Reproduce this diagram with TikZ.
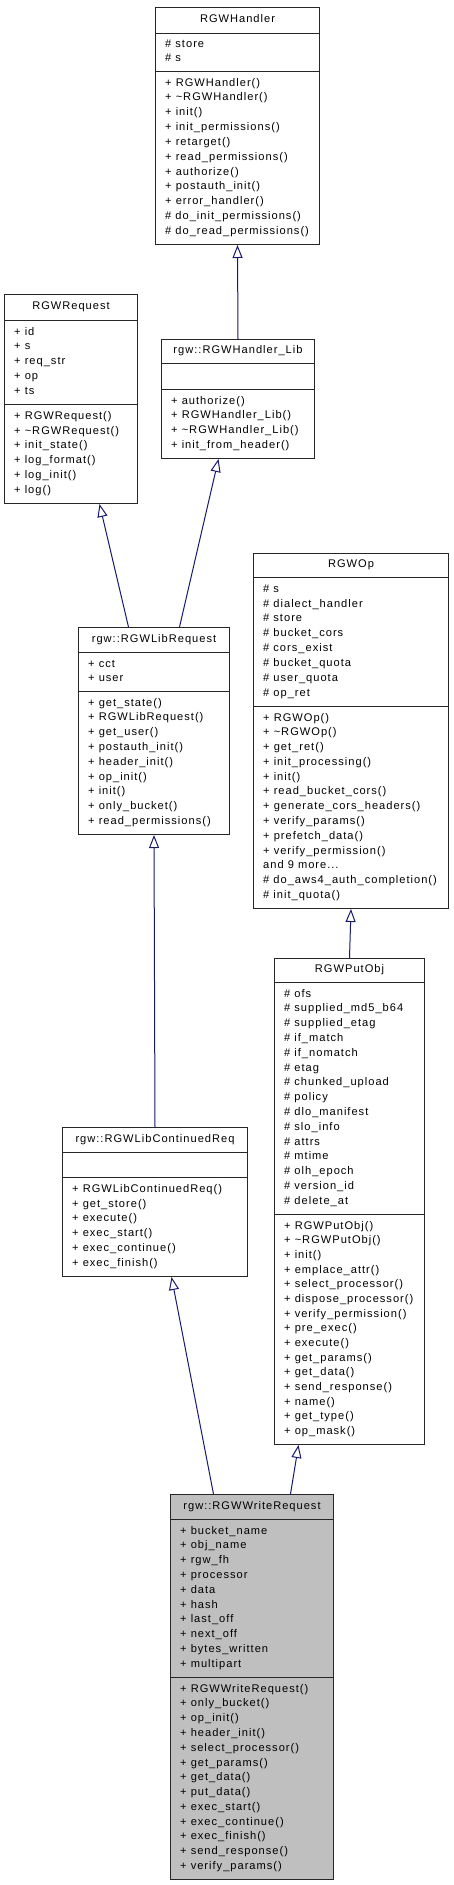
\documentclass[tikz,border=0pt]{standalone}
\usepackage{fontspec}
\setmainfont{Liberation Sans}[LetterSpace=9]
\usetikzlibrary{arrows.meta, positioning}
\definecolor{edgeblue}{HTML}{191970}
\definecolor{focusgray}{HTML}{BFBFBF}
\newcommand\moreitems{and 9 more...}

\begin{document}
\begin{tikzpicture}[
    x=1pt, y=-1pt,
    font=\fontsize{11.1}{13}\selectfont,
    cls/.style={rectangle, draw=black!85, line width=1pt, fill=white,
                anchor=north west, inner sep=0pt},
    focus/.style={cls, fill=focusgray},
    ttl/.style={inner sep=0pt, text height=8pt, text depth=2.5pt},
    mem/.style={anchor=west, inner sep=0pt, text height=8pt, text depth=2.5pt},
    sep/.style={draw=black!85, line width=1pt},
    inh/.style={-{Triangle[open, length=13pt, width=10pt]}, edgeblue, line width=1pt}
  ]
    \fill[white] (0,0) rectangle (453,1885);
    \useasboundingbox (0,0) rectangle (453,1885);

    %% ── RGWHandler
    \node[cls, minimum width=164, minimum height=237] (handler) at (155,7) {};
    \node[ttl] (handlerT) at ([yshift=-13]handler.north) {RGWHandler};
    \draw[sep] ([yshift=-26]handler.north west) -- ([yshift=-26]handler.north east);
    \draw[sep] ([yshift=-64]handler.north west) -- ([yshift=-64]handler.north east);
    \foreach \m [count=\i] in {\# store, \# s}
      \node[mem] (handlerA\i) at (165, {33+5+(\i-0.5)*14}) {\m};
    \foreach \m [count=\i] in {+ RGWHandler(), + \textasciitilde RGWHandler(), + init(),
        + init\_permissions(), + retarget(), + read\_permissions(), + authorize(),
        + postauth\_init(), + error\_handler(), \# do\_init\_permissions(),
        \# do\_read\_permissions()}
      \node[mem] (handlerM\i) at (165, {71+5+(\i-0.5)*14.82}) {\m};

    %% ── RGWRequest
    \node[cls, minimum width=133, minimum height=209] (request) at (4,294) {};
    \node[ttl] (requestT) at ([yshift=-13]request.north) {RGWRequest};
    \draw[sep] ([yshift=-26]request.north west) -- ([yshift=-26]request.north east);
    \draw[sep] ([yshift=-110]request.north west) -- ([yshift=-110]request.north east);
    \foreach \m [count=\i] in {+ id, + s, + req\_str, + op, + ts}
      \node[mem] (requestA\i) at (14, {320+5+(\i-0.5)*14.8}) {\m};
    \foreach \m [count=\i] in {+ RGWRequest(), + \textasciitilde RGWRequest(), + init\_state(),
        + log\_format(), + log\_init(), + log()}
      \node[mem] (requestM\i) at (14, {404+5+(\i-0.5)*14.83}) {\m};

    %% ── rgw::RGWHandler_Lib
    \node[cls, minimum width=153, minimum height=119] (handlerlib) at (161,339) {};
    \node[ttl] (handlerlibT) at ([yshift=-12]handlerlib.north) {rgw::RGWHandler\_Lib};
    \draw[sep] ([yshift=-24]handlerlib.north west) -- ([yshift=-24]handlerlib.north east);
    \draw[sep] ([yshift=-50]handlerlib.north west) -- ([yshift=-50]handlerlib.north east);
    \foreach \m [count=\i] in {+ authorize(), + RGWHandler\_Lib(),
        + \textasciitilde RGWHandler\_Lib(), + init\_from\_header()}
      \node[mem] (handlerlibM\i) at (171, {389+5+(\i-0.5)*14.75}) {\m};

    %% ── RGWOp
    \node[cls, minimum width=195, minimum height=355] (op) at (253,553) {};
    \node[ttl] (opT) at ([yshift=-12]op.north) {RGWOp};
    \draw[sep] ([yshift=-24]op.north west) -- ([yshift=-24]op.north east);
    \draw[sep] ([yshift=-153]op.north west) -- ([yshift=-153]op.north east);
    \foreach \m [count=\i] in {\# s, \# dialect\_handler, \# store, \# bucket\_cors,
        \# cors\_exist, \# bucket\_quota, \# user\_quota, \# op\_ret}
      \node[mem] (opA\i) at (263, {577+5+(\i-0.5)*14.875}) {\m};
    \foreach \m [count=\i] in {+ RGWOp(), + \textasciitilde RGWOp(), + get\_ret(),
        + init\_processing(), + init(), + read\_bucket\_cors(),
        + generate\_cors\_headers(), + verify\_params(), + prefetch\_data(),
        + verify\_permission(), \moreitems, \# do\_aws4\_auth\_completion(),
        \# init\_quota()}
      \node[mem] (opM\i) at (263, {706+5+(\i-0.5)*14.77}) {\m};

    %% ── rgw::RGWLibRequest
    \node[cls, minimum width=151, minimum height=207] (libreq) at (78,627) {};
    \node[ttl] (libreqT) at ([yshift=-12.5]libreq.north) {rgw::RGWLibRequest};
    \draw[sep] ([yshift=-25]libreq.north west) -- ([yshift=-25]libreq.north east);
    \draw[sep] ([yshift=-64]libreq.north west) -- ([yshift=-64]libreq.north east);
    \foreach \m [count=\i] in {+ cct, + user}
      \node[mem] (libreqA\i) at (88, {652+5+(\i-0.5)*14.5}) {\m};
    \foreach \m [count=\i] in {+ get\_state(), + RGWLibRequest(), + get\_user(),
        + postauth\_init(), + header\_init(), + op\_init(), + init(),
        + only\_bucket(), + read\_permissions()}
      \node[mem] (libreqM\i) at (88, {691+5+(\i-0.5)*14.78}) {\m};

    %% ── RGWPutObj
    \node[cls, minimum width=150, minimum height=486] (putobj) at (274,958) {};
    \node[ttl] (putobjT) at ([yshift=-12]putobj.north) {RGWPutObj};
    \draw[sep] ([yshift=-24]putobj.north west) -- ([yshift=-24]putobj.north east);
    \draw[sep] ([yshift=-256]putobj.north west) -- ([yshift=-256]putobj.north east);
    \foreach \m [count=\i] in {\# ofs, \# supplied\_md5\_b64, \# supplied\_etag,
        \# if\_match, \# if\_nomatch, \# etag, \# chunked\_upload, \# policy,
        \# dlo\_manifest, \# slo\_info, \# attrs, \# mtime, \# olh\_epoch,
        \# version\_id, \# delete\_at}
      \node[mem] (putobjA\i) at (284, {982+5+(\i-0.5)*14.8}) {\m};
    \foreach \m [count=\i] in {+ RGWPutObj(), + \textasciitilde RGWPutObj(), + init(),
        + emplace\_attr(), + select\_processor(), + dispose\_processor(),
        + verify\_permission(), + pre\_exec(), + execute(), + get\_params(),
        + get\_data(), + send\_response(), + name(), + get\_type(), + op\_mask()}
      \node[mem] (putobjM\i) at (284, {1214+5+(\i-0.5)*14.67}) {\m};

    %% ── rgw::RGWLibContinuedReq
    \node[cls, minimum width=185, minimum height=149] (contreq) at (62,1127) {};
    \node[ttl] (contreqT) at ([yshift=-12.5]contreq.north) {rgw::RGWLibContinuedReq};
    \draw[sep] ([yshift=-25]contreq.north west) -- ([yshift=-25]contreq.north east);
    \draw[sep] ([yshift=-50]contreq.north west) -- ([yshift=-50]contreq.north east);
    \foreach \m [count=\i] in {+ RGWLibContinuedReq(), + get\_store(), + execute(),
        + exec\_start(), + exec\_continue(), + exec\_finish()}
      \node[mem] (contreqM\i) at (72, {1177+5+(\i-0.5)*14.83}) {\m};

    %% ── rgw::RGWWriteRequest (focus class)
    \node[focus, minimum width=163, minimum height=385] (write) at (170,1494) {};
    \node[ttl] (writeT) at ([yshift=-12.5]write.north) {rgw::RGWWriteRequest};
    \draw[sep] ([yshift=-25]write.north west) -- ([yshift=-25]write.north east);
    \draw[sep] ([yshift=-183]write.north west) -- ([yshift=-183]write.north east);
    \foreach \m [count=\i] in {+ bucket\_name, + obj\_name, + rgw\_fh, + processor,
        + data, + hash, + last\_off, + next\_off, + bytes\_written, + multipart}
      \node[mem] (writeA\i) at (180, {1519+5+(\i-0.5)*14.8}) {\m};
    \foreach \m [count=\i] in {+ RGWWriteRequest(), + only\_bucket(), + op\_init(),
        + header\_init(), + select\_processor(), + get\_params(), + get\_data(),
        + put\_data(), + exec\_start(), + exec\_continue(), + exec\_finish(),
        + send\_response(), + verify\_params()}
      \node[mem] (writeM\i) at (180, {1677+5+(\i-0.5)*14.77}) {\m};

    %% Arrows: derived -> base (inheritance)
    \draw[inh] (handlerlib.north) -- (handler.south);
    \draw[inh] ([xshift=-25.5]libreq.north) -- ([xshift=28.5]request.south);
    \draw[inh] ([xshift=25.5]libreq.north) -- ([xshift=-19.5]handlerlib.south);
    \draw[inh] (putobj.north) -- (op.south);
    \draw[inh] (contreq.north) -- (libreq.south);
    \draw[inh] ([xshift=-38.5]write.north) -- ([xshift=16.5]contreq.south);
    \draw[inh] ([xshift=38.5]write.north) -- ([xshift=-51]putobj.south);

  \end{tikzpicture}
\end{document}
